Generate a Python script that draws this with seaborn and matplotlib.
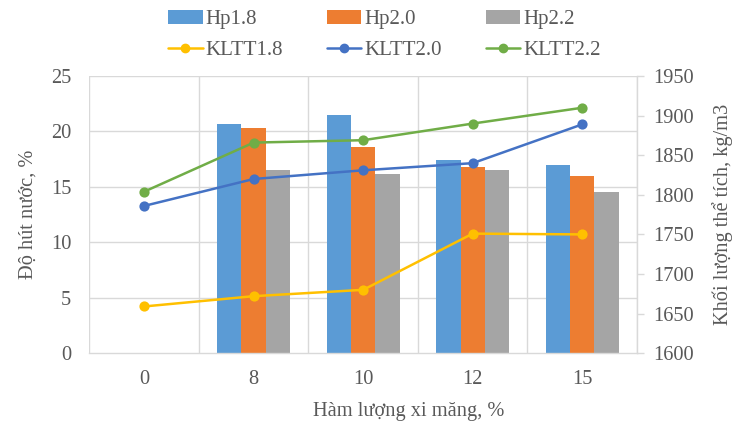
import matplotlib
matplotlib.use("Agg")
import matplotlib.pyplot as plt
import seaborn as sns
import pandas as pd
from matplotlib.patches import Patch
from matplotlib.lines import Line2D

# Cement content (%) on the x axis
categories = ["0", "8", "10", "12", "15"]

# Water absorption (%) per density group; no bars at 0 %
hp18 = [None, 20.7, 21.5, 17.4, 17.0]
hp20 = [None, 20.3, 18.6, 16.8, 16.0]
hp22 = [None, 16.5, 16.2, 16.5, 14.5]

# Bulk density (kg/m3) per density group
kltt18 = [1659, 1672, 1680, 1751, 1750]
kltt20 = [1786, 1820, 1831, 1840, 1889]
kltt22 = [1804, 1866, 1869, 1890, 1910]

bar_names = ["Hp1.8", "Hp2.0", "Hp2.2"]
line_names = ["KLTT1.8", "KLTT2.0", "KLTT2.2"]
bar_colors = ["#5B9BD5", "#ED7D31", "#A5A5A5"]
line_colors = ["#FFC000", "#4472C4", "#70AD47"]

TEXT = "#595959"
GRID = "#D9D9D9"
FS = 14.7

sns.set_theme(style="white")
plt.rcParams["font.family"] = ["Liberation Serif", "DejaVu Serif"]
plt.rcParams["text.color"] = TEXT
plt.rcParams["axes.labelcolor"] = TEXT
plt.rcParams["xtick.color"] = TEXT
plt.rcParams["ytick.color"] = TEXT

bar_rows = []
for name, vals in zip(bar_names, [hp18, hp20, hp22]):
    for c, v in zip(categories, vals):
        if v is not None:
            bar_rows.append({"cat": c, "val": v, "series": name})
bar_df = pd.DataFrame(bar_rows)

line_rows = []
for name, vals in zip(line_names, [kltt18, kltt20, kltt22]):
    for c, v in zip(categories, vals):
        line_rows.append({"cat": c, "val": v, "series": name})
line_df = pd.DataFrame(line_rows)

fig, ax = plt.subplots(figsize=(7.45, 4.25), dpi=100)
fig.subplots_adjust(left=0.12, right=0.855, bottom=0.169, top=0.821)

sns.barplot(data=bar_df, x="cat", y="val", hue="series", order=categories,
            hue_order=bar_names, palette=bar_colors, width=0.667, gap=0,
            errorbar=None, linewidth=0, saturation=1, ax=ax, legend=False)

ax.set_ylim(0, 25)
ax.set_yticks(range(0, 26, 5))
ax.set_xlim(-0.5, len(categories) - 0.5)
ax.set_axisbelow(True)
for y in range(5, 26, 5):
    ax.axhline(y, color=GRID, lw=1, zorder=0)
for x in [i + 0.5 for i in range(-1, len(categories))]:
    ax.axvline(x, color=GRID, lw=1, zorder=0)
for s in ["top", "right", "left"]:
    ax.spines[s].set_visible(False)
ax.spines["bottom"].set_color(GRID)
ax.spines["bottom"].set_linewidth(1)
ax.tick_params(axis="y", length=0, labelsize=FS, pad=13)
ax.tick_params(axis="x", length=0, labelsize=FS, pad=12)
ax.set_xlabel("Hàm lượng xi măng, %", fontsize=FS)
ax.xaxis.set_label_coords(0.584, -0.178)
ax.set_ylabel("Độ hút nước, %", fontsize=FS, labelpad=10)

ax2 = ax.twinx()
sns.pointplot(data=line_df, x="cat", y="val", hue="series", order=categories,
              hue_order=line_names, palette=line_colors, markers="o",
              markersize=6, linewidth=1.8, errorbar=None, ax=ax2, legend=False)
ax2.set_xlim(-0.5, len(categories) - 0.5)
ax2.set_ylim(1600, 1950)
ax2.set_yticks(range(1600, 1951, 50))
for s in ["top", "left", "bottom"]:
    ax2.spines[s].set_visible(False)
ax2.spines["right"].set_color(GRID)
ax2.spines["right"].set_linewidth(1)
ax2.tick_params(axis="y", length=5, width=1, color=GRID, labelsize=FS, pad=7)
ax2.set_ylabel("Khối lượng thể tích, kg/m3", fontsize=FS, labelpad=13)
ax2.set_xlabel("")

handles = []
for bn, bc, ln, lc in zip(bar_names, bar_colors, line_names, line_colors):
    handles.append(Patch(facecolor=bc, edgecolor="none", label=bn))
    handles.append(Line2D([0], [0], color=lc, lw=1.8, marker="o", markersize=6, label=ln))
fig.legend(handles=handles, ncol=3, loc="center", bbox_to_anchor=(0.516, 0.918),
           frameon=False, fontsize=15, handlelength=1.65, handletextpad=0.15,
           columnspacing=2.1, labelspacing=0.55)

fig.savefig("out.png", dpi=100)
